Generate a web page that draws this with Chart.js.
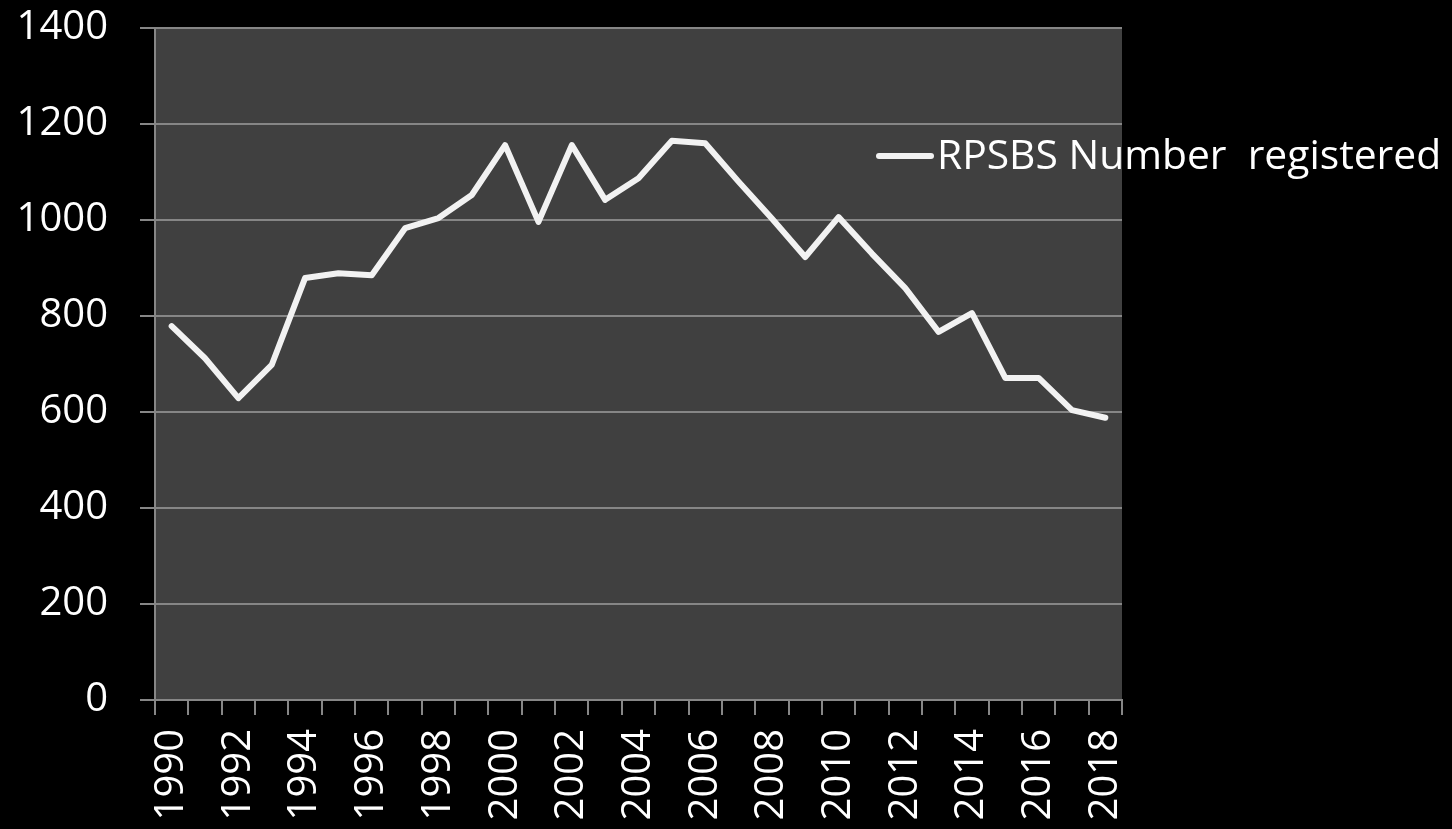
<!DOCTYPE html>
<html>
<head>
<meta charset="utf-8">
<script src="https://cdn.jsdelivr.net/npm/chart.js@4.4.1/dist/chart.umd.min.js"></script>
<style>
  html, body { margin: 0; padding: 0; background: #000; }
  #wrap { width: 1452px; height: 829px; }
</style>
</head>
<body>
<div id="wrap"><canvas id="chart"></canvas></div>
<script>
const years = ["1990", "1991", "1992", "1993", "1994", "1995", "1996", "1997", "1998", "1999",
    "2000", "2001", "2002", "2003", "2004", "2005", "2006", "2007", "2008", "2009",
    "2010", "2011", "2012", "2013", "2014", "2015", "2016", "2017", "2018"];
const registered = [779, 712, 629, 698, 879, 889, 885, 983, 1004, 1052,
    1156, 996, 1156, 1042, 1087, 1165, 1160, 1080, 1003, 923,
    1006, 930, 858, 767, 806, 671, 671, 604, 588];
const seriesLabel = "RPSBS Number  registered";

const FONT = "'Open Sans', 'Noto Sans', sans-serif";
const gridGray = "#868686";

// grey plot area + legend drawn over the chart like the original
const plotBg = {
    id: "plotBg",
    beforeDraw(chart) {
        const { ctx, chartArea: a } = chart;
        ctx.save();
        ctx.fillStyle = "#404040";
        ctx.fillRect(a.left, a.top, a.right - a.left, a.bottom - a.top);
        ctx.restore();
    },
    afterDraw(chart) {
        const ctx = chart.ctx;
        ctx.save();
        ctx.strokeStyle = "#f2f2f2";
        ctx.lineWidth = 6;
        ctx.lineCap = "round";
        ctx.beginPath();
        ctx.moveTo(879, 156);
        ctx.lineTo(931, 156);
        ctx.stroke();
        ctx.fillStyle = "#ffffff";
        ctx.font = "40.8px " + FONT;
        ctx.textBaseline = "middle";
        ctx.fillText(chart.data.datasets[0].label, 937, 157);
        ctx.restore();
    }
};

const dv = document.getElementById("chart");
const chart = new Chart(dv, {
    type: "line",
    data: {
        labels: years,
        datasets: [{
            label: seriesLabel,
            data: registered,
            borderColor: "#f2f2f2",
            borderWidth: 6,
            borderJoinStyle: "round",
            borderCapStyle: "round",
            pointRadius: 0,
            tension: 0,
            fill: false,
        }],
    },
    options: {
        responsive: true,
        maintainAspectRatio: false,
        animation: false,
        devicePixelRatio: 1,
        layout: { padding: { left: 16, right: 330, top: 0, bottom: 0 } },
        plugins: {
            legend: { display: false },
            tooltip: { enabled: false },
        },
        scales: {
            x: {
                offset: true,
                grid: { offset: true, drawOnChartArea: false, color: gridGray, lineWidth: 2, tickLength: 15 },
                border: { color: gridGray, width: 2 },
                ticks: {
                    autoSkip: false,
                    maxRotation: 90,
                    minRotation: 90,
                    padding: 14,
                    color: "#ffffff",
                    font: { family: FONT, size: 40 },
                    callback: (v, i) => (i % 2 === 0 ? years[i] : ""),
                },
                afterFit: (s) => { s.height = 129; },
            },
            y: {
                min: 0,
                max: 1400,
                grid: { color: gridGray, lineWidth: 2, tickLength: 15 },
                border: { color: gridGray, width: 2 },
                ticks: {
                    stepSize: 200,
                    padding: 32,
                    color: "#ffffff",
                    font: { family: FONT, size: 40 },
                    callback: (v) => String(v),
                },
                afterFit: (s) => { s.width = 139; s.paddingTop = 28; },
            },
        },
    },
    plugins: [plotBg],
});
</script>
</body>
</html>
